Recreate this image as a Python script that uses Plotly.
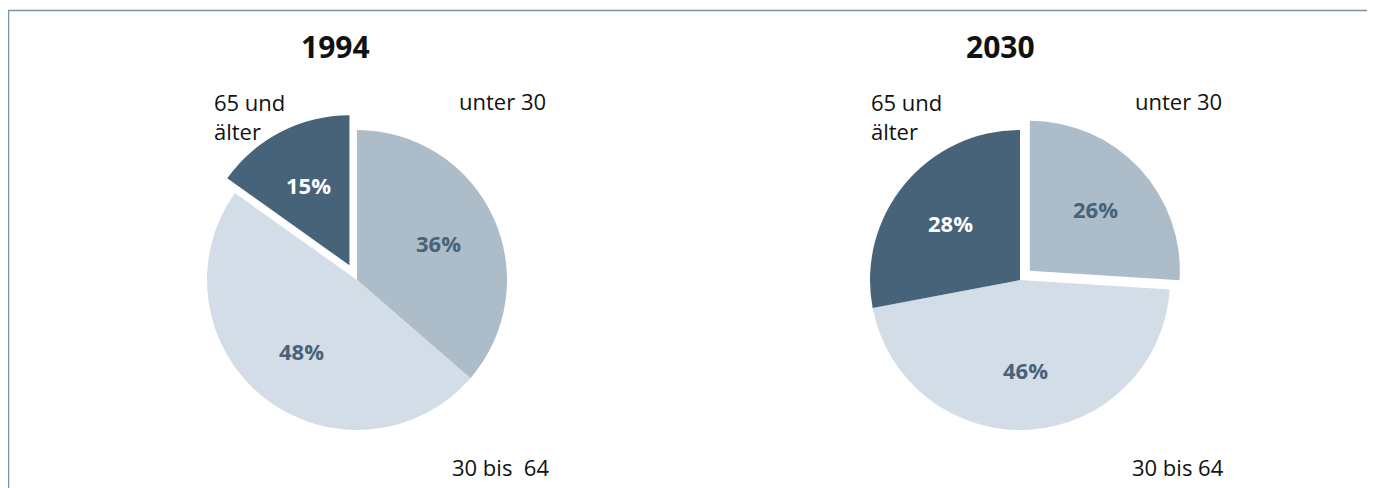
import math
import plotly.graph_objects as go

# ---- data ----
categories = ["unter 30", "30 bis 64", "65 und älter"]
years = ["1994", "2030"]
values_1994 = [36, 48, 15]
values_2030 = [26, 46, 28]
pulled_1994 = "65 und älter"
pulled_2030 = "unter 30"

# ---- style ----
W, H = 1375, 488
OFF = 8  # default page body margin of the html page
colors = ["#adbcc9", "#d3dde7", "#46637a"]
text_colors = ["#46637a", "#46637a", "#ffffff"]
FONT = "Open Sans"
R = 150  # pie radius in px
LABEL_R = 0.6


def px(x):
    return (x - OFF) / W


def py(y):
    return 1 - (y - OFF) / H


def domain(cx, cy, pull):
    half = R * (1 + pull)
    return dict(x=[px(cx - half), px(cx + half)],
                y=[py(cy + half), py(cy - half)])


fig = go.Figure()


def ann(text, x, y, size=22, bold=False, xanchor="left", color="#111111"):
    fig.add_annotation(
        text=f"<b>{text}</b>" if bold else text, x=px(x), y=py(y),
        xref="paper", yref="paper", xanchor=xanchor, yanchor="middle",
        showarrow=False, align="left",
        font=dict(family=FONT, size=size, color=color))


def pie(values, pulled_cat, pull, cx, cy):
    pulls = [pull if c == pulled_cat else 0 for c in categories]
    fig.add_trace(go.Pie(
        labels=categories, values=values, sort=False, direction="clockwise",
        rotation=0, pull=pulls, domain=domain(cx, cy, pull),
        marker=dict(colors=colors, line=dict(width=0)),
        textinfo="none", hoverinfo="label+value", showlegend=False,
    ))
    # percentage labels placed at the mid angle of each slice
    total = sum(values)
    cum = 0
    for v, p, tc in zip(values, pulls, text_colors):
        mid = (cum + v / 2) / total * 2 * math.pi
        cum += v
        rr = R * (LABEL_R + p)
        ann(f"{v}%", cx + rr * math.sin(mid), cy - rr * math.cos(mid),
            size=22, bold=True, xanchor="center", color=tc)


pie(values_1994, pulled_1994, 0.11, 357, 280)
pie(values_2030, pulled_2030, 0.09, 1020, 280)

# titles
ann(years[0], 335, 46, size=30, bold=True, xanchor="center")
ann(years[1], 1000, 46, size=30, bold=True, xanchor="center")

# outer category labels
ann(categories[0], 457, 101)
ann("30 bis\u00a0 64", 450, 467)
ann("65 und<br>älter", 212, 116)
ann(categories[0], 1133, 101)
ann(categories[1], 1130, 467)
ann("65 und<br>älter", 869, 116)

# frame
fig.add_shape(type="rect", xref="paper", yref="paper",
              x0=px(8.5), x1=px(1368), y0=-0.2, y1=py(10.5),
              line=dict(color="#7d92a4", width=1.5), fillcolor="rgba(0,0,0,0)")

fig.update_layout(
    width=W, height=H, margin=dict(l=0, r=0, t=0, b=0),
    paper_bgcolor="white", plot_bgcolor="white",
    font=dict(family=FONT),
)

fig.write_html("out.html")
